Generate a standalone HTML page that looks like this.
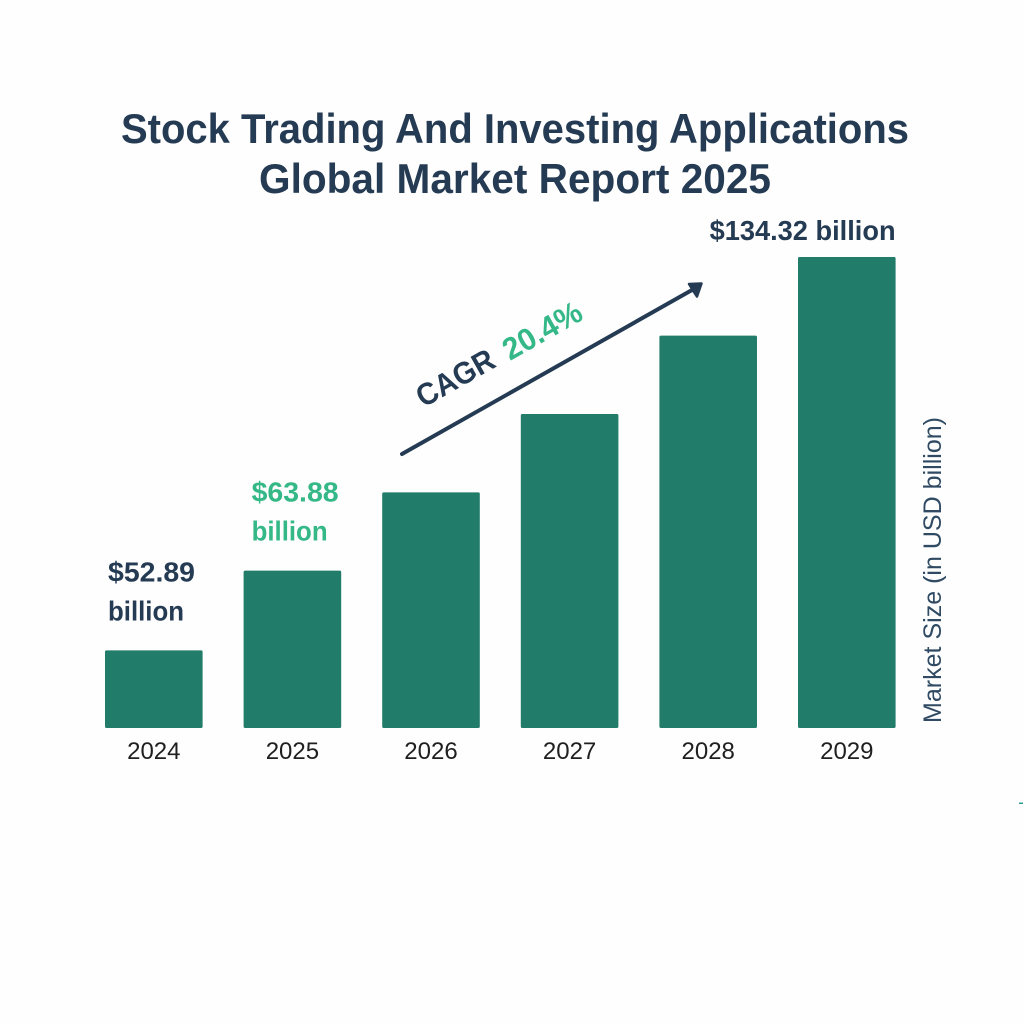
<!DOCTYPE html>
<html lang="en">
<head>
<meta charset="utf-8">
<title>Stock Trading And Investing Applications Global Market Report 2025</title>
<style>
html,body{margin:0;padding:0;background:#fefefe;}
svg{display:block;font-family:"Liberation Sans",Arial,sans-serif;}
</style>
</head>
<body>
<svg id="chart" xmlns="http://www.w3.org/2000/svg" width="1024" height="1024" viewBox="0 0 1024 1024">
  <rect x="0" y="0" width="1024" height="1024" fill="#fefefe"/>
  <g fill="#243b53" font-weight="700" font-size="42">
    <text x="121" y="143" textLength="788" lengthAdjust="spacingAndGlyphs">Stock Trading And Investing Applications</text>
    <text x="259" y="193" textLength="512" lengthAdjust="spacingAndGlyphs">Global Market Report 2025</text>
  </g>
  <g id="bars"></g>
  <g id="x-ticks"></g>
  <g id="value-labels"></g>
  <g>
    <line x1="402" y1="454" x2="692" y2="290" stroke="#243b53" stroke-width="4" stroke-linecap="round"/>
    <polygon points="701.5,283.5 689,284 693,290.5 697,296.5" fill="#243b53" stroke="#243b53" stroke-width="2.5" stroke-linejoin="round"/>
    <text transform="translate(423.5,408) rotate(-29.5)" font-size="31" font-weight="700" fill="#243b53" textLength="85" lengthAdjust="spacingAndGlyphs">CAGR</text>
    <text transform="translate(510,361) rotate(-29.5)" font-size="31" font-weight="700" fill="#35b888" textLength="86" lengthAdjust="spacingAndGlyphs">20.4%</text>
  </g>
  <text transform="translate(941,723) rotate(-90)" font-size="25" fill="#2f4a62" textLength="306" lengthAdjust="spacingAndGlyphs">Market Size (in USD billion)</text>
  <rect x="1019" y="802.5" width="4" height="1.5" fill="#2a9d8f"/>
</svg>
<script>
const years = ["2024", "2025", "2026", "2027", "2028", "2029"];
const marketValues = [52.89, 63.88, 76.91, 92.6, 111.49, 134.32];
const valueLabelLines = [["$52.89", "billion"], ["$63.88", "billion"], null, null, null, ["$134.32 billion"]];
const valueLabelColors = ["#243b53", "#35b888", null, null, null, "#243b53"];

const svgNS = "http://www.w3.org/2000/svg";
const baselineY = 728;
const plotHeight = 471;
const domainMin = 44;
const domainMax = 134.32;

// The picture spaces bars evenly for a constant growth rate, i.e. a log scale.
function yScale(v) {
  return baselineY - plotHeight * Math.log(v / domainMin) / Math.log(domainMax / domainMin);
}
function xScale(i) {
  return 105 + i * 138.6;
}
const barWidth = 97.6;

const barsGroup = document.getElementById("bars");
const ticksGroup = document.getElementById("x-ticks");
const labelsGroup = document.getElementById("value-labels");

years.forEach(function (year, i) {
  const top = yScale(marketValues[i]);
  const bar = document.createElementNS(svgNS, "rect");
  
  
  bar.setAttribute("x", xScale(i));
  bar.setAttribute("y", top);
  bar.setAttribute("width", barWidth);
  bar.setAttribute("height", baselineY - top);
  bar.setAttribute("rx", 1.5);
  bar.setAttribute("fill", "#227c6a");
  barsGroup.appendChild(bar);

  const tick = document.createElementNS(svgNS, "text");
  
  
  tick.setAttribute("x", xScale(i) + barWidth / 2);
  tick.setAttribute("y", 759);
  tick.setAttribute("text-anchor", "middle");
  tick.setAttribute("font-size", 24);
  tick.setAttribute("fill", "#1f1f1f");
  tick.textContent = year;
  ticksGroup.appendChild(tick);

  const lines = valueLabelLines[i];
  if (!lines) return;
  lines.forEach(function (line, k) {
    const label = document.createElementNS(svgNS, "text");
    
    
    const single = lines.length === 1;
    label.setAttribute("x", single ? xScale(i) + barWidth - 186 : xScale(i) + 3 + (i === 1 ? 5 : 0));
    label.setAttribute("y", single ? top - 17 : top - 69 + k * 39);
    label.setAttribute("font-size", 28);
    label.setAttribute("font-weight", 700);
    label.setAttribute("fill", valueLabelColors[i]);
    label.setAttribute("textLength", single ? 186 : (k === 0 ? 87 : 76));
    label.setAttribute("lengthAdjust", "spacingAndGlyphs");
    label.textContent = line;
    labelsGroup.appendChild(label);
  });
});
</script>
</body>
</html>
